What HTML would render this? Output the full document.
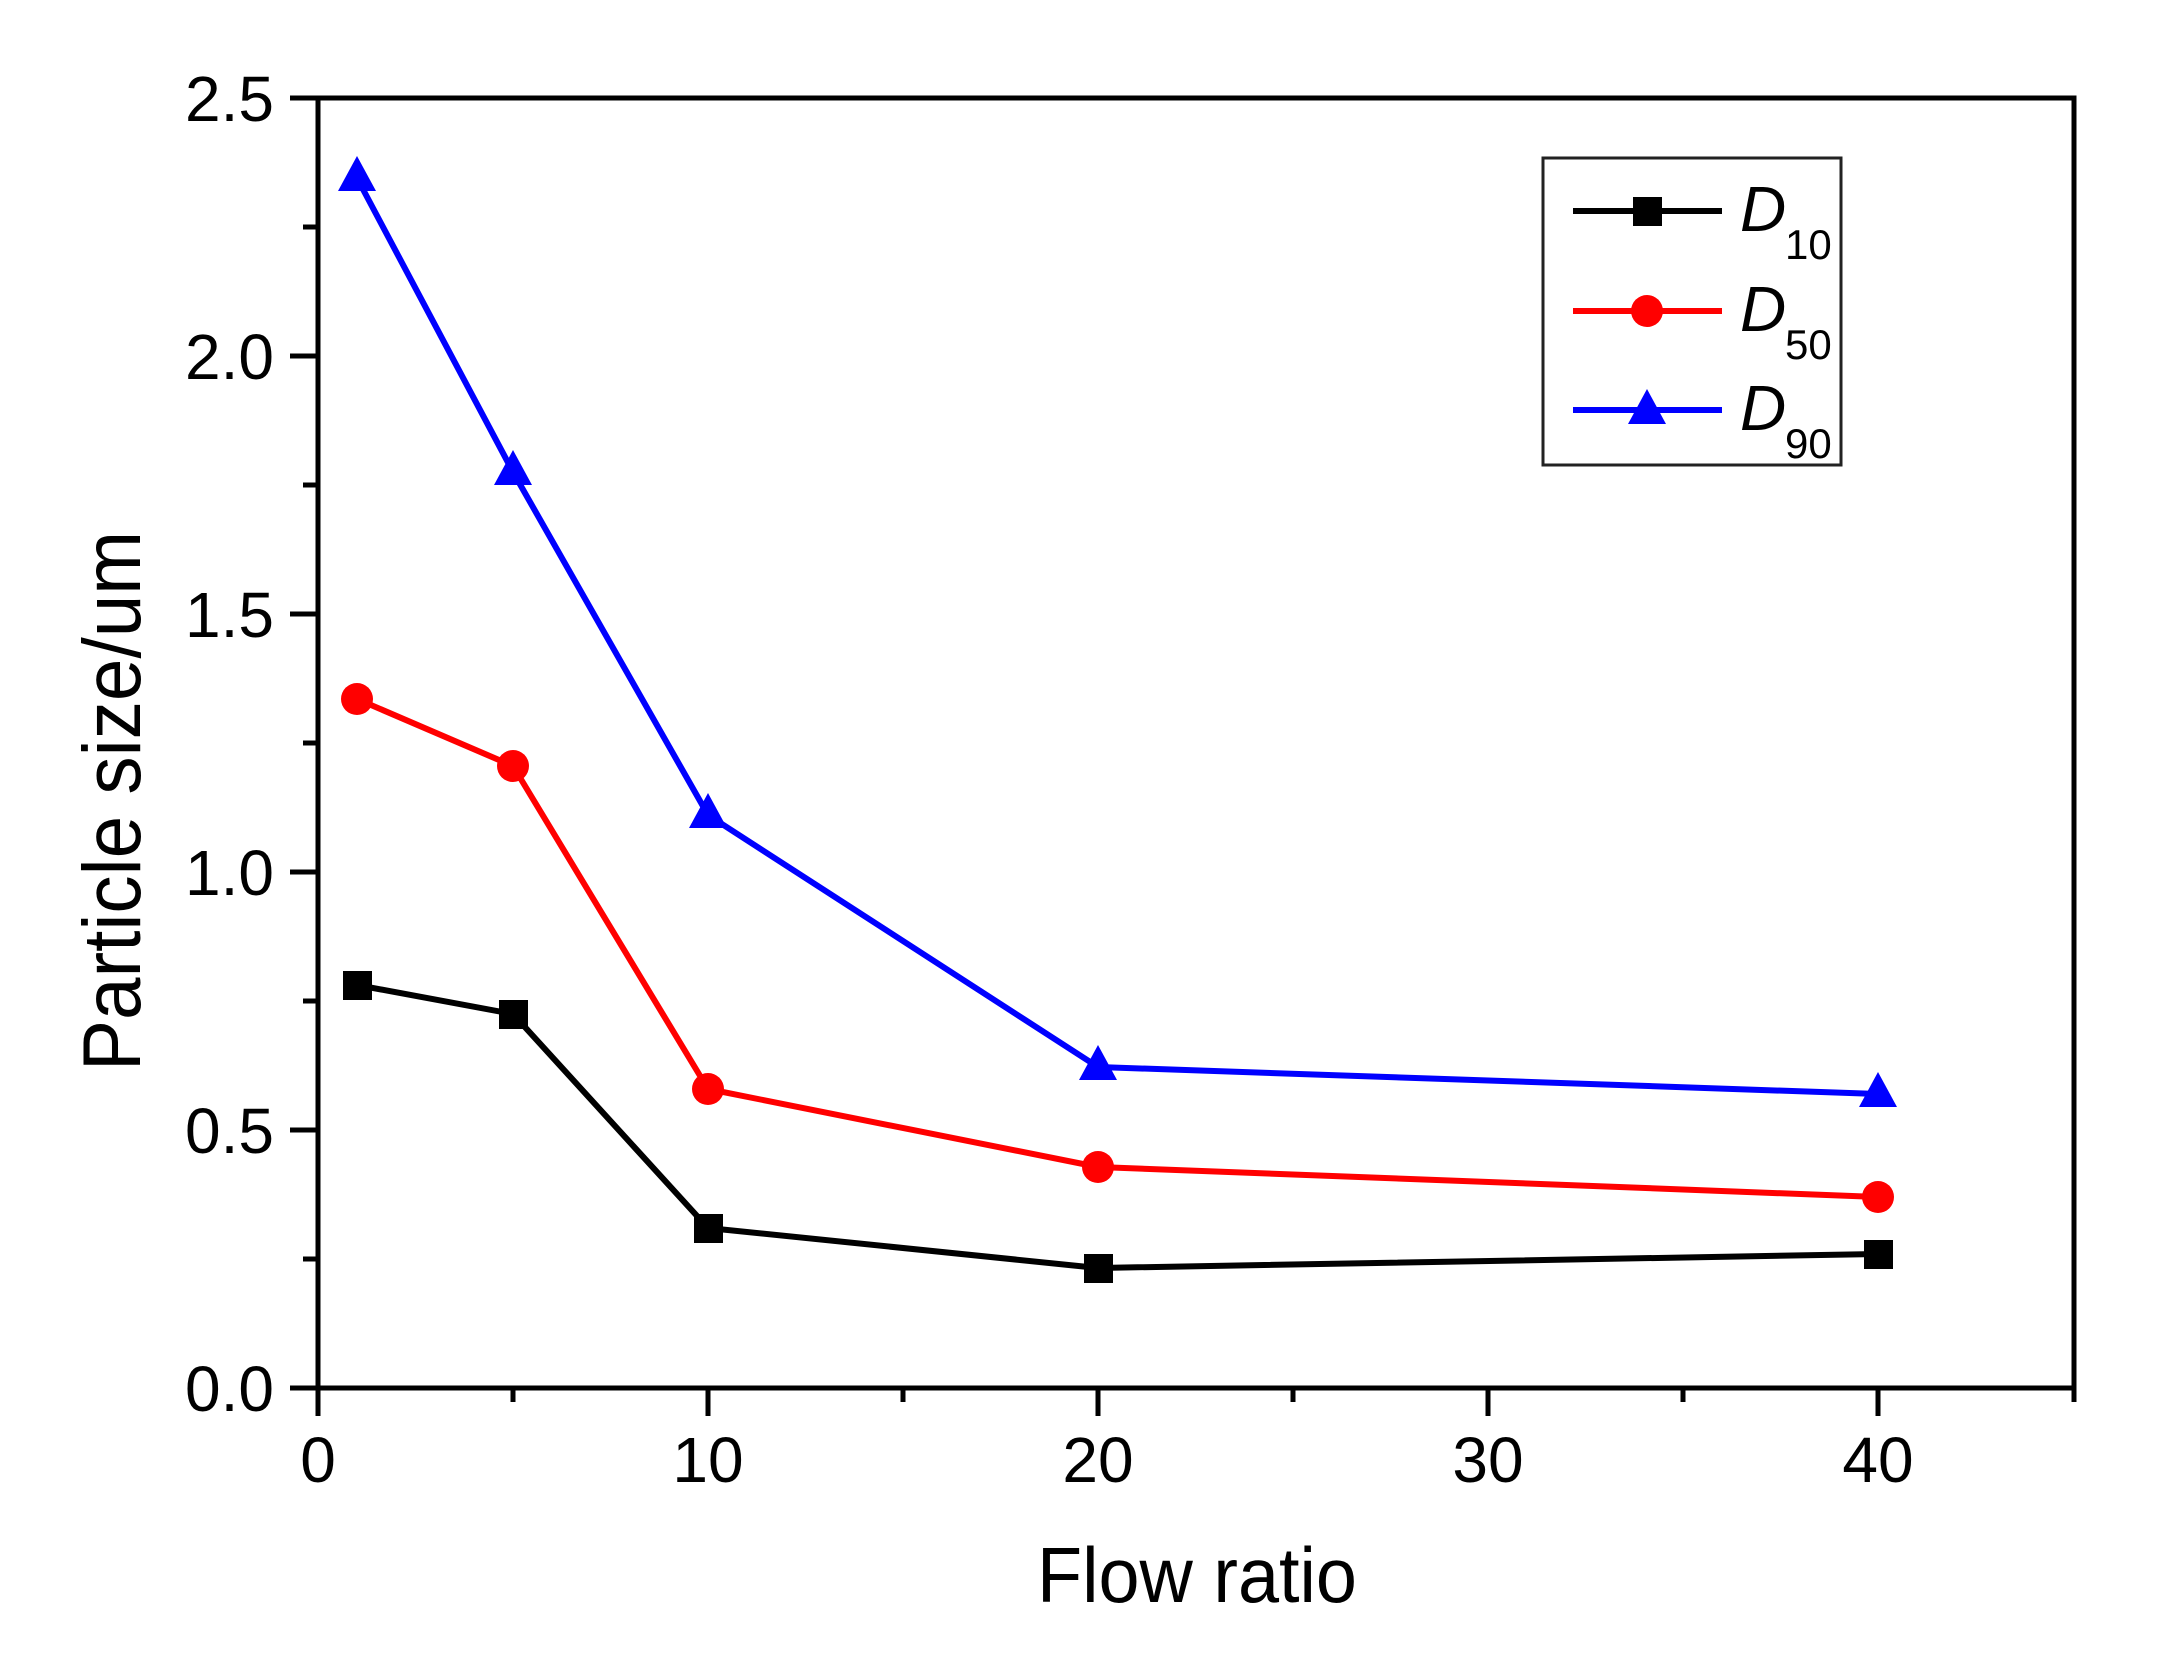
<!DOCTYPE html>
<html><head><meta charset="utf-8"><style>html,body{margin:0;padding:0;background:#fff}svg{display:block}</style></head>
<body>
<svg width="2169" height="1669" viewBox="0 0 2169 1669" xmlns="http://www.w3.org/2000/svg" font-family="Liberation Sans, Arial, sans-serif">
<rect width="2169" height="1669" fill="#fff"/>
<g stroke="#000" stroke-width="5" fill="none">
<rect x="318" y="98" width="1756" height="1290"/>
<path d="M290 1388H318M290 1130H318M290 872H318M290 614H318M290 356H318M290 98H318"/>
<path d="M303 1259H318M303 1001H318M303 743H318M303 485H318M303 227H318"/>
<path d="M318 1388V1416M708 1388V1416M1098 1388V1416M1488 1388V1416M1878 1388V1416"/>
<path d="M513 1388V1402M903 1388V1402M1293 1388V1402M1683 1388V1402M2074 1388V1402"/>
</g>
<g font-size="64" fill="#000" text-anchor="end">
<text x="274" y="1411">0.0</text>
<text x="274" y="1153">0.5</text>
<text x="274" y="895">1.0</text>
<text x="274" y="637">1.5</text>
<text x="274" y="379">2.0</text>
<text x="274" y="121">2.5</text>
</g>
<g font-size="64" fill="#000" text-anchor="middle">
<text x="318" y="1482">0</text>
<text x="708" y="1482">10</text>
<text x="1098" y="1482">20</text>
<text x="1488" y="1482">30</text>
<text x="1878" y="1482">40</text>
</g>
<text x="1037" y="1602" font-size="78" textLength="320" lengthAdjust="spacingAndGlyphs">Flow ratio</text>
<text transform="translate(140,1071) rotate(-90)" font-size="82" textLength="540" lengthAdjust="spacingAndGlyphs">Particle size/um</text>
<g fill="none" stroke-width="6" stroke-linejoin="round">
<polyline stroke="#000" points="357,985 513,1014 708,1228 1098,1268 1878,1254"/>
<polyline stroke="#ff0000" points="357,699 513,766 708,1089 1098,1167 1878,1197"/>
<polyline stroke="#0000ff" points="357,178 513,472 708,815 1098,1067 1878,1094"/>
</g>
<g fill="#000">
<rect x="343" y="971" width="29" height="29"/>
<rect x="499" y="1000" width="29" height="29"/>
<rect x="694" y="1214" width="29" height="29"/>
<rect x="1084" y="1254" width="29" height="29"/>
<rect x="1864" y="1240" width="29" height="29"/>
</g>
<g fill="#ff0000">
<circle cx="357" cy="699" r="16"/>
<circle cx="513" cy="766" r="16"/>
<circle cx="708" cy="1089" r="16"/>
<circle cx="1098" cy="1167" r="16"/>
<circle cx="1878" cy="1197" r="16"/>
</g>
<g fill="#0000ff">
<path d="M357 156L376 191L338 191Z"/>
<path d="M513 450L532 485L494 485Z"/>
<path d="M708 793L727 828L689 828Z"/>
<path d="M1098 1045L1117 1080L1079 1080Z"/>
<path d="M1878 1072L1897 1107L1859 1107Z"/>
</g>
<rect x="1543" y="158" width="298" height="307" fill="#fff" stroke="#222" stroke-width="3"/>
<g stroke-width="6">
<line x1="1573" y1="211" x2="1722" y2="211" stroke="#000"/>
<line x1="1573" y1="311" x2="1722" y2="311" stroke="#ff0000"/>
<line x1="1573" y1="410" x2="1722" y2="410" stroke="#0000ff"/>
</g>
<rect x="1633" y="197" width="29" height="29" fill="#000"/>
<circle cx="1647" cy="311" r="16" fill="#ff0000"/>
<path d="M1647 389L1666 424L1628 424Z" fill="#0000ff"/>
<g fill="#000">
<text x="1740" y="231" font-size="64" font-style="italic">D</text><text x="1785" y="259" font-size="42">10</text>
<text x="1740" y="331" font-size="64" font-style="italic">D</text><text x="1785" y="359" font-size="42">50</text>
<text x="1740" y="430" font-size="64" font-style="italic">D</text><text x="1785" y="458" font-size="42">90</text>
</g>
</svg>
</body></html>
